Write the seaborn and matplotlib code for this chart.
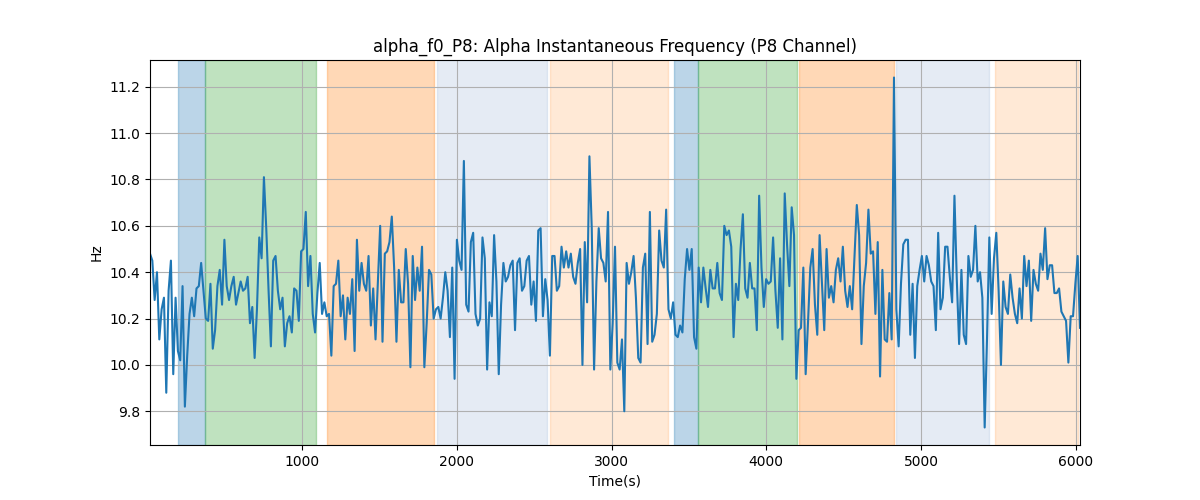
import numpy as np
import pandas as pd
import seaborn as sns
import matplotlib
matplotlib.use("Agg")
import matplotlib.pyplot as plt

# frecuencia instantánea alpha (Hz), ~15 s entre muestras
t_inicio = 16
t_fin = 6028
frecuencia = [
    10.48, 10.45, 10.28, 10.40, 10.11, 10.24, 10.29, 9.88, 10.32, 10.45,
    9.96, 10.29, 10.06, 10.02, 10.34, 9.82, 10.04, 10.22, 10.29, 10.21,
    10.33, 10.34, 10.44, 10.32, 10.20, 10.19, 10.35, 10.07, 10.15, 10.34,
    10.41, 10.26, 10.54, 10.34, 10.28, 10.34, 10.38, 10.26, 10.31, 10.36,
    10.32, 10.33, 10.38, 10.18, 10.25, 10.03, 10.24, 10.55, 10.46, 10.81,
    10.59, 10.32, 10.08, 10.45, 10.47, 10.32, 10.24, 10.29, 10.08, 10.18,
    10.21, 10.14, 10.33, 10.32, 10.19, 10.49, 10.50, 10.66,
    10.34, 10.47, 10.22, 10.14, 10.31, 10.44, 10.22, 10.27, 10.21, 10.22,
    10.04, 10.34, 10.35, 10.45, 10.21, 10.30, 10.11, 10.29, 10.22, 10.37,
    10.06, 10.54, 10.32, 10.44, 10.35, 10.32, 10.47, 10.17, 10.33, 10.11,
    10.35, 10.60, 10.10, 10.48, 10.49, 10.53, 10.64, 10.42, 10.10, 10.41,
    10.27, 10.27, 10.50, 10.35, 9.99, 10.47, 10.28, 10.42, 10.32, 10.51,
    9.99, 10.18, 10.41, 10.39, 10.20, 10.24, 10.25, 10.20, 10.29, 10.40,
    10.32, 10.12, 10.42, 9.94, 10.54, 10.45, 10.41, 10.88,
    10.26, 10.23, 10.53, 10.57, 10.22, 10.17, 10.20, 10.55, 10.46, 9.98,
    10.27, 10.21, 10.56, 10.36, 9.96, 10.26, 10.44, 10.36, 10.38, 10.43,
    10.45, 10.15, 10.44, 10.46, 10.32, 10.34, 10.45, 10.47, 10.26, 10.36,
    10.19, 10.58, 10.59, 10.21, 10.37, 10.28, 10.04, 10.47, 10.47, 10.32,
    10.34, 10.51, 10.42, 10.49, 10.42, 10.48, 10.38, 10.35, 10.44, 10.50,
    10.00, 10.53, 10.27, 10.90, 10.59, 9.98, 10.36, 10.59, 10.46, 10.44,
    10.36, 10.66, 9.98, 10.18, 10.51, 10.01,
    9.98, 10.11, 9.80, 10.44, 10.35, 10.40, 10.47, 10.29, 10.03, 10.01,
    10.42, 10.48, 10.09, 10.66, 10.10, 10.13, 10.22, 10.58, 10.45, 10.42,
    10.67, 10.24, 10.20, 10.27, 10.13, 10.12, 10.17, 10.14, 10.37, 10.50,
    10.41, 10.50, 10.12, 10.07, 10.42, 10.27, 10.42, 10.33, 10.25, 10.41,
    10.33, 10.33, 10.44, 10.31, 10.28, 10.60, 10.56, 10.58, 10.51, 10.12,
    10.35, 10.28, 10.50, 10.65, 10.33, 10.29, 10.44, 10.33, 10.33, 10.15,
    10.73, 10.42, 10.25, 10.37, 10.35, 10.36, 10.55,
    10.32, 10.16, 10.46, 10.11, 10.74, 10.52, 10.34, 10.68, 10.56, 9.94,
    10.15, 10.16, 10.42, 9.96, 10.18, 10.42, 10.50, 10.26, 10.13, 10.56,
    10.35, 10.15, 10.50, 10.29, 10.34, 10.27, 10.41, 10.46, 10.36, 10.51,
    10.32, 10.25, 10.34, 10.24, 10.46, 10.69, 10.56, 10.09, 10.34, 10.44,
    10.67, 10.48, 10.49, 10.22, 10.53, 9.95, 10.41, 10.11, 10.10, 10.31,
    10.11, 11.24, 10.24, 10.08, 10.35, 10.52, 10.54, 10.54, 10.13, 10.35,
    10.03, 10.34, 10.41, 10.47, 10.36, 10.47, 10.43,
    10.36, 10.34, 10.15, 10.57, 10.24, 10.29, 10.51, 10.51, 10.38, 10.27,
    10.73, 10.37, 10.09, 10.41, 10.13, 10.09, 10.47, 10.38, 10.41, 10.60,
    10.36, 10.40, 10.29, 9.73, 10.11, 10.55, 10.22, 10.46, 10.57, 10.32,
    10.00, 10.36, 10.25, 10.22, 10.39, 10.29, 10.22, 10.18, 10.33, 10.20,
    10.47, 10.34, 10.45, 10.19, 10.41, 10.35, 10.32, 10.48, 10.41, 10.59,
    10.37, 10.43, 10.43, 10.31, 10.31, 10.33, 10.23, 10.21, 10.19, 10.01,
    10.21, 10.21, 10.35, 10.47, 10.16,
]

# intervalos sombreados (inicio, fin, color, alpha)
seg_inicio = [194, 369, 1159, 1871, 2602, 3405, 3557, 4214, 4841, 5476]
seg_fin = [369, 1087, 1851, 2583, 3366, 3557, 4201, 4828, 5437, 6013]
seg_color = ["tab:blue", "tab:green", "tab:orange", "lightsteelblue", "tab:orange",
             "tab:blue", "tab:green", "tab:orange", "lightsteelblue", "tab:orange"]
seg_alpha = [0.3, 0.3, 0.3, 0.33, 0.17, 0.3, 0.3, 0.3, 0.33, 0.17]

df = pd.DataFrame({
    "Time(s)": np.linspace(t_inicio, t_fin, len(frecuencia)),
    "Hz": frecuencia,
})

fig, ax = plt.subplots(figsize=(12, 5), dpi=100)

for a, b, c, al in zip(seg_inicio, seg_fin, seg_color, seg_alpha):
    ax.axvspan(a, b, color=c, alpha=al)

sns.lineplot(data=df, x="Time(s)", y="Hz", ax=ax, color="tab:blue", linewidth=1.5)

ax.set_xlim(df["Time(s)"].min(), df["Time(s)"].max())
ax.set_title("alpha_f0_P8: Alpha Instantaneous Frequency (P8 Channel)")
ax.set_xlabel("Time(s)")
ax.set_ylabel("Hz")
ax.grid(True)

plt.savefig("out.png", dpi=100)
